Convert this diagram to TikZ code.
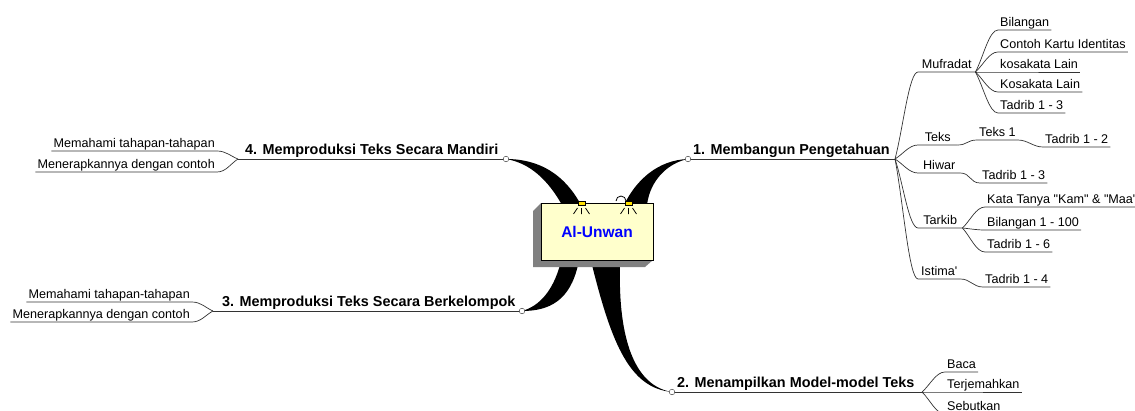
\documentclass[tikz,border=0pt]{standalone}
\usepackage{fontspec}
\setmainfont{Liberation Sans}[Ligatures=TeXOff]
\usepackage{xcolor}
\usetikzlibrary{calc}

\definecolor{boxfill}{HTML}{FFFFCC}
\definecolor{lampyellow}{HTML}{FFE000}
\definecolor{unwanblue}{HTML}{0000FF}
\newcommand{\leaffont}{\fontsize{12.6}{14}\selectfont}
\newcommand{\branchfont}{\fontsize{14.4}{17}\selectfont\bfseries}
\newcommand{\rootfont}{\fontsize{15.5}{18}\selectfont\bfseries}

\tikzset{
	leaf/.style={anchor=south west,font=\leaffont,inner xsep=2pt,inner ysep=0.5pt,text height=9.4pt,text depth=3.2pt},
	leafl/.style={leaf,anchor=south east},
	branch/.style={anchor=south west,font=\branchfont,inner xsep=3pt,inner ysep=0.5pt,text height=10.5pt,text depth=3.4pt},
	wire/.style={draw=black!80,line width=0.7pt},
	knob/.style={fill=white,draw=black!70,line width=0.5pt},
	fanr/.style={to path={.. controls ($(\tikztostart)!0.35!(\tikztotarget)$) and ($(\tikztotarget)+(-9,0)$) .. (\tikztotarget)}},
	fanl/.style={to path={.. controls ($(\tikztostart)!0.35!(\tikztotarget)$) and ($(\tikztotarget)+(9,0)$) .. (\tikztotarget)}},
	scurve/.style={to path={.. controls +(10,0) and +(-10,0) .. (\tikztotarget)}}
}

\begin{document}
\begin{tikzpicture}[x=1pt,y=-1pt]
	\useasboundingbox (0,0) rectangle (1135,410);
	\clip (0,0) rectangle (1135,410);
	
	% ends of the four main branches
	\coordinate (t1) at (688,159);
	\coordinate (t2) at (672,392);
	\coordinate (t3) at (522,311);
	\coordinate (t4) at (506,159);
	
	% tapered black branches out of the box
	\fill (624,205) .. controls (636,180) and (658,160) .. (t1) .. controls (668,163) and (650,180) .. (647,205) -- cycle;
	\fill (t4) .. controls (540,159) and (565,175) .. (581,205) -- (562,205) .. controls (548,180) and (530,163) .. (t4);
	\fill (578,265) .. controls (570,300) and (550,311) .. (t3) .. controls (540,306) and (553,290) .. (560,265) -- cycle;
	\fill (592,265) .. controls (612,345) and (630,388) .. (t2) .. controls (635,386) and (618,340) .. (620,265) -- cycle;
	
	% central box with its shadow
	\fill[gray] (541,203) -- (533,211) -- (533,267) -- (645,267) -- (653,260) -- cycle;
	\node[draw=black,fill=boxfill,minimum width=112pt,minimum height=57pt,inner sep=0pt,line width=0.8pt,font=\rootfont,text=unwanblue] (root) at (597,231.5) {Al-Unwan};
	
	% lamps
	\foreach \lx in {581.5,628.5}{
		\draw[fill=lampyellow,line width=0.5pt] (\lx-3.5,201.5) rectangle (\lx+3.5,205.5);
		\draw[line width=0.8pt] (\lx-4,208)--(\lx-8,214) (\lx,208)--(\lx,214) (\lx+4,208)--(\lx+8,214);
	}
	\draw[line width=0.8pt] (626,201) arc[start angle=0,end angle=-180,radius=5];
	
	% 1. Membangun Pengetahuan
	\node[branch] (b1) at (690,159) {1. Membangun Pengetahuan};
	\coordinate (h1) at (895,159);
	\draw[wire] (t1)--(h1);
	\foreach \n/\t/\y/\w in {muf/Mufradat/72/57, teks/Teks/145/39, hiw/Hiwar/173/42, tark/Tarkib/228/44, ist/Istima'/279/42}{
		\node[leaf,minimum width=\w pt] (\n) at (918,\y) {\t};
		\draw[wire] (h1) to[fanr] (\n.south west) -- (\n.south east);
	}
	\foreach \n/\t/\y in {bil/Bilangan/30, kti/Contoh Kartu Identitas/52, kosa1/kosakata Lain/72, kosa2/Kosakata Lain/92, tad13/Tadrib 1 - 3/113}{
		\node[leaf] (\n) at (998,\y) {\t};
		\draw[wire] (muf.south east) to[fanr] (\n.south west) -- (\n.south east);
	}
	\node[leaf] (teks1) at (977,140) {Teks 1};
	\node[leaf] (tad12) at (1043,147) {Tadrib 1 - 2};
	\draw[wire] (teks.south east) to[scurve] (teks1.south west) -- (teks1.south east) to[scurve] (tad12.south west) -- (tad12.south east);
	\node[leaf] (tad13b) at (980,183) {Tadrib 1 - 3};
	\draw[wire] (hiw.south east) to[scurve] (tad13b.south west) -- (tad13b.south east);
	\foreach \n/\t/\y in {kata/Kata Tanya "Kam" \& "Maa"/207, bil100/Bilangan 1 - 100/230, tad16/Tadrib 1 - 6/252}{
		\node[leaf] (\n) at (985,\y) {\t};
		\draw[wire] (tark.south east) to[fanr] (\n.south west) -- (\n.south east);
	}
	\node[leaf] (tad14) at (983,287) {Tadrib 1 - 4};
	\draw[wire] (ist.south east) to[scurve] (tad14.south west) -- (tad14.south east);
	
	% 2. Menampilkan Model-model Teks
	\node[branch] (b2) at (674,392) {2. Menampilkan Model-model Teks};
	\coordinate (h2) at (922,392);
	\draw[wire] (t2)--(h2);
	\foreach \n/\t/\y in {baca/Baca/372, terj/Terjemahkan/392, sebut/Sebutkan/414}{
		\node[leaf] (\n) at (945,\y) {\t};
		\draw[wire] (h2) to[fanr] (\n.south west) -- (\n.south east);
	}
	
	% 3. Memproduksi Teks Secara Berkelompok
	\node[branch] (b3) at (219,311) {3. Memproduksi Teks Secara Berkelompok};
	\coordinate (h3) at (213,311);
	\draw[wire] (t3)--(h3);
	\foreach \n/\t/\y in {mem3/Memahami tahapan-tahapan/302, ner3/Menerapkannya dengan contoh/322}{
		\node[leafl] (\n) at (192,\y) {\t};
		\draw[wire] (h3) to[fanl] (\n.south east) -- (\n.south west);
	}
	
	% 4. Memproduksi Teks Secara Mandiri
	\node[branch] (b4) at (242,159) {4. Memproduksi Teks Secara Mandiri};
	\coordinate (h4) at (238,159);
	\draw[wire] (t4)--(h4);
	\foreach \n/\t/\y in {mem4/Memahami tahapan-tahapan/151, ner4/Menerapkannya dengan contoh/172}{
		\node[leafl] (\n) at (217,\y) {\t};
		\draw[wire] (h4) to[fanl] (\n.south east) -- (\n.south west);
	}
	
	\foreach \t in {t1,t2,t3,t4}
	\draw[knob] (\t) circle[radius=2.8];
\end{tikzpicture}
\end{document}
